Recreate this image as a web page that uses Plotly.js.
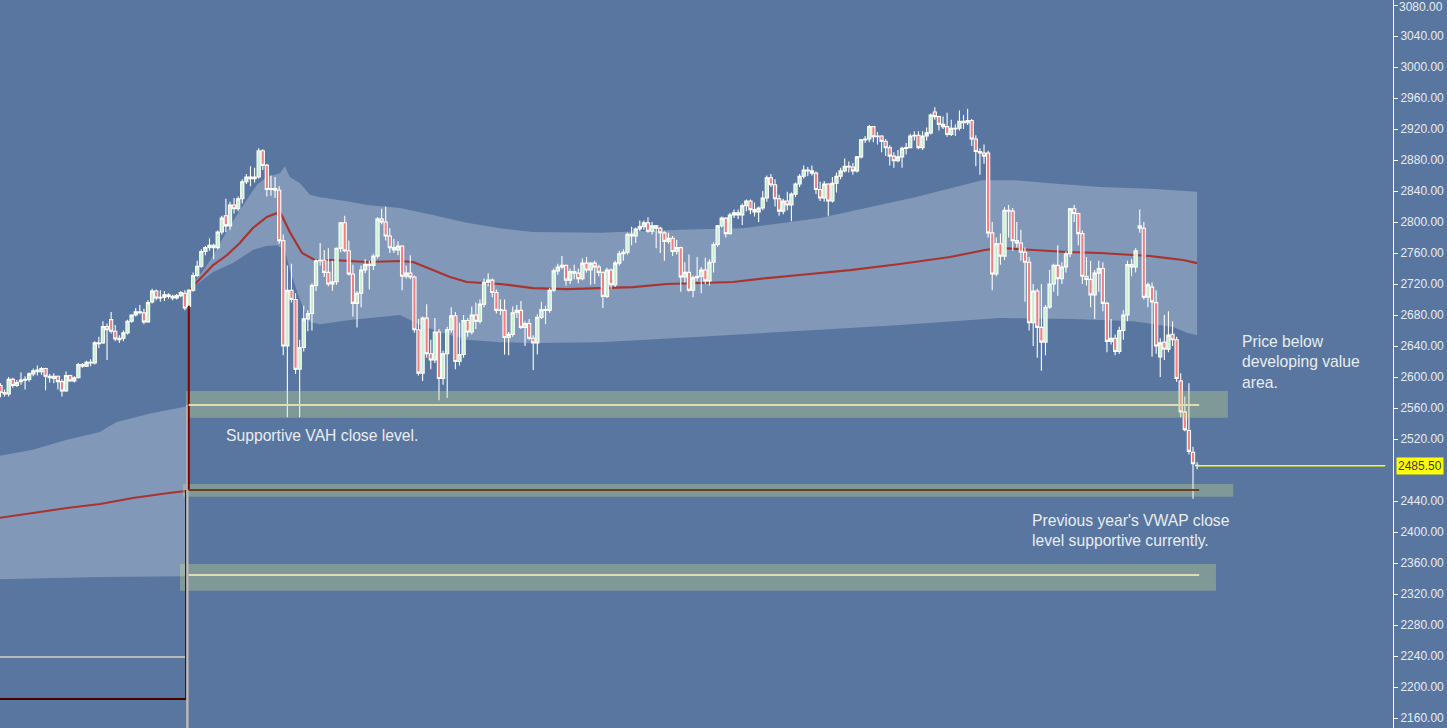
<!DOCTYPE html>
<html><head><meta charset="utf-8">
<script src="https://cdn.plot.ly/plotly-3.0.1.min.js"></script>
<style>html,body{margin:0;padding:0;background:#5876a0;overflow:hidden}#chart{width:1447px;height:728px}</style>
</head><body><div id="chart"></div>
<script>
// ---------- DATA: daily bars (prior year tail, then current year) ----------
const open17 = [2589,2580,2578,2597,2589,2594,2596,2597,2604,2609,2607,2611,2601,2598,2601,2594,2582,2602,2595,2599,2616,2614,2619,2618,2644,2644,2665,2674,2659,2648,2650,2657,2672,2680,2684,2683,2671,2697,2711,2702,2703,2706,2704,2702,2705,2708];
const high17 = [2592,2584,2600,2599,2596,2606,2601,2606,2611,2615,2613,2612,2604,2605,2602,2597,2607,2603,2601,2618,2618,2621,2623,2646,2652,2672,2669,2684,2667,2654,2660,2674,2681,2689,2693,2688,2699,2714,2713,2712,2711,2708,2706,2707,2711,2712];
const low17 = [2574,2575,2575,2586,2587,2590,2584,2594,2601,2602,2603,2583,2593,2592,2584,2575,2581,2594,2593,2598,2612,2613,2614,2616,2637,2643,2622,2656,2646,2644,2646,2655,2670,2678,2681,2668,2670,2695,2699,2697,2698,2701,2699,2700,2703,2686];
const close17 = [2580,2578,2597,2589,2593,2596,2597,2604,2608,2607,2611,2601,2599,2601,2594,2582,2602,2595,2599,2616,2614,2619,2618,2644,2643,2665,2661,2659,2649,2650,2657,2672,2680,2684,2683,2671,2696,2711,2702,2703,2706,2704,2702,2705,2709,2689];

const open18 = [2691,2712,2731,2743,2762,2767,2770,2767,2787,2808,
2795,2822,2817,2830,2852,2858,2856,2858,2892,2873,
2842,2843,2841,2776,2640,2712,2700,2610,2638,2675,
2682,2718,2750,2751,2735,2720,2723,2766,2799,2763,
2733,2695,2708,2738,2745,2744,2756,2804,2800,2782,
2767,2764,2769,2730,2734,2729,2661,2605,2676,2630,
2622,2658,2598,2630,2661,2679,2620,2629,2673,2658,
2680,2672,2694,2722,2725,2709,2686,2686,2651,2655,
2683,2686,2664,2669,2650,2644,2677,2687,2686,2712,
2737,2742,2744,2725,2736,2734,2727,2747,2738,2747,
2742,2735,2704,2738,2719,2747,2759,2761,2784,2782,
2791,2794,2799,2788,2795,2792,2786,2775,2779,2762,
2767,2729,2735,2712,2728,2730,2738,2724,2748,2771,
2795,2805,2785,2809,2812,2809,2821,2827,2816,2813,
2818,2831,2857,2848,2830,2814,2827,2822,2836,2849,
2859,2867,2866,2863,2842,2831,2849,2827,2850,2859,
2866,2872,2871,2866,2884,2906,2907,2923,2910,2911,
2904,2896,2885,2879,2884,2895,2896,2911,2912,2896,
2911,2915,2942,2936,2926,2923,2913,2921,2921,2930,
2928,2931,2907,2891,2889,2889,2786,2733,2772,2756,
2815,2814,2776,2773,2761,2748,2670,2711,2664,2645,
2690,2720,2744,2727,2742,2759,2817,2811,2785,2730,
2726,2706,2734,2740,2695,2646,2650,2633,2660,2680,
2745,2742,2795,2792,2703,2716,2696,2626,2645,2636,
2655,2648,2595,2555,2531,2503,2486];
const high18 = [2714,2735,2750,2765,2769,2779,2772,2789,2808,2830,
2826,2831,2833,2855,2862,2872,2870,2895,2894,2875,
2860,2858,2846,2784,2744,2746,2708,2648,2692,2686,
2721,2752,2773,2764,2766,2750,2767,2800,2808,2776,
2745,2711,2744,2752,2750,2759,2806,2817,2820,2792,
2778,2775,2770,2744,2757,2731,2675,2678,2694,2648,
2676,2662,2634,2665,2690,2684,2670,2680,2676,2691,
2696,2700,2727,2734,2727,2713,2700,2700,2658,2691,
2693,2698,2672,2675,2654,2681,2697,2692,2715,2740,
2746,2756,2745,2740,2745,2740,2753,2755,2748,2750,
2745,2736,2741,2740,2750,2763,2765,2786,2794,2793,
2802,2802,2806,2800,2796,2794,2788,2786,2782,2777,
2768,2748,2758,2731,2755,2742,2754,2752,2774,2796,
2807,2806,2812,2816,2816,2824,2829,2829,2825,2820,
2840,2860,2862,2855,2835,2830,2839,2838,2851,2862,
2873,2871,2873,2865,2852,2853,2850,2858,2864,2870,
2882,2878,2876,2885,2907,2911,2925,2924,2916,2912,
2907,2899,2890,2893,2897,2902,2914,2917,2917,2917,
2922,2940,2948,2937,2936,2941,2932,2926,2944,2938,
2946,2933,2912,2895,2900,2892,2800,2780,2785,2819,
2822,2818,2800,2790,2767,2755,2720,2714,2720,2693,
2738,2746,2770,2748,2762,2818,2822,2812,2789,2755,
2750,2738,2750,2748,2697,2675,2655,2665,2686,2750,
2752,2766,2816,2800,2722,2722,2712,2650,2680,2685,
2672,2652,2605,2575,2592,2510,2490];
const low18 = [2688,2710,2729,2741,2757,2763,2752,2765,2784,2787,
2790,2811,2814,2824,2849,2846,2851,2856,2867,2833,
2834,2831,2772,2628,2548,2696,2604,2548,2633,2659,
2660,2711,2744,2729,2717,2711,2719,2761,2761,2731,
2678,2664,2690,2734,2713,2738,2753,2797,2776,2760,
2760,2757,2712,2727,2726,2657,2602,2595,2625,2610,
2618,2570,2590,2573,2657,2610,2615,2625,2652,2655,
2662,2669,2690,2717,2703,2682,2680,2629,2628,2652,
2676,2662,2640,2648,2609,2629,2675,2668,2683,2710,
2732,2739,2718,2720,2726,2721,2725,2735,2719,2720,
2730,2689,2702,2714,2716,2744,2750,2758,2770,2773,
2788,2790,2786,2784,2766,2760,2750,2772,2756,2758,
2710,2722,2710,2703,2724,2708,2720,2718,2735,2768,
2792,2780,2784,2805,2804,2796,2814,2810,2807,2800,
2815,2826,2845,2820,2808,2810,2815,2801,2832,2845,
2856,2859,2860,2836,2827,2826,2808,2825,2838,2855,
2864,2864,2861,2864,2882,2902,2903,2903,2900,2890,
2885,2873,2870,2877,2870,2887,2895,2905,2894,2893,
2905,2913,2932,2918,2920,2910,2911,2911,2918,2920,
2925,2898,2872,2861,2875,2780,2712,2730,2745,2751,
2780,2763,2767,2750,2697,2660,2640,2625,2608,2628,
2688,2710,2705,2720,2735,2755,2800,2770,2720,2718,
2690,2675,2710,2685,2632,2642,2628,2630,2648,2672,
2730,2735,2786,2700,2690,2626,2630,2600,2622,2632,
2640,2594,2548,2530,2500,2443,2481];
const close18 = [2712,2731,2743,2762,2767,2770,2767,2787,2805,2795,
2822,2817,2830,2852,2858,2856,2858,2892,2873,2842,
2843,2841,2776,2640,2712,2700,2610,2638,2675,2682,
2718,2750,2751,2735,2720,2723,2766,2799,2763,2733,
2695,2708,2738,2745,2744,2756,2804,2800,2782,2767,
2764,2769,2730,2734,2729,2661,2605,2676,2630,2622,
2658,2598,2630,2661,2679,2620,2629,2673,2658,2680,
2672,2694,2722,2725,2709,2686,2687,2651,2655,2683,
2686,2664,2669,2650,2644,2677,2687,2686,2712,2737,
2742,2744,2725,2736,2734,2727,2747,2738,2747,2742,
2735,2704,2738,2719,2747,2759,2761,2784,2782,2791,
2794,2799,2788,2795,2792,2786,2775,2779,2762,2767,
2729,2735,2712,2728,2730,2738,2724,2748,2771,2795,
2805,2785,2809,2812,2809,2821,2827,2816,2813,2818,
2831,2857,2848,2830,2814,2827,2822,2836,2849,2859,
2867,2866,2863,2842,2831,2849,2827,2850,2859,2866,
2872,2871,2866,2884,2906,2907,2923,2910,2911,2904,
2896,2885,2879,2884,2895,2896,2911,2912,2896,2911,
2915,2938,2936,2926,2923,2913,2921,2920,2930,2928,
2931,2907,2891,2889,2885,2786,2733,2772,2756,2815,
2814,2776,2773,2761,2748,2670,2711,2664,2645,2690,
2720,2744,2727,2742,2759,2817,2811,2785,2730,2726,
2706,2734,2740,2695,2646,2650,2633,2660,2680,2745,
2742,2763,2792,2703,2719,2697,2640,2644,2636,2654,
2648,2598,2555,2532,2504,2488,2485.5];

// prior-year developing value area (bar index / price)
const band17UpperX = [-0.5, 7.9, 16.2, 24.3, 26.0, 28.4, 36.5, 45.3];
const band17Upper  = [2498, 2506, 2519, 2529, 2535, 2542, 2553, 2562];
const band17LowerX = [-0.5, 16.2, 24.3, 45.3];
const band17Lower  = [2339, 2341, 2342, 2343];
const vwap17X = [-0.5, 7.9, 16.2, 24.3, 32.3, 40.6, 45.3];
const vwap17  = [2418, 2424.5, 2431, 2436, 2444, 2450, 2453];

// current-year developing value area and VWAP
const upper18X = [46,51.1,56,60.9,62.6,65,68.2,69.4,70.6,73.1,75.5,78,85.3,89.4,97.5,105.5,113.8,121.9,129.9,146.3,165.8,181.2,200,223.2,239.5,247.6,256.1,268.3,280.5,292];
const upper18  = [2712,2750,2795,2835,2848,2858,2863,2872,2858,2850,2835,2832,2826,2822,2818,2809,2799,2792,2787,2786,2790,2792,2805,2832,2854,2854,2850,2845,2843,2839];
const lower18X = [46,51.9,56.7,61.6,65,67.5,69.4,70.6,73.1,75.5,78,85.3,97.5,102.4,107.2,113.8,121.9,129.9,146.3,170.7,200,219.5,243.9,261.7,276.4,286.1,289.5,292];
const lower18  = [2712,2735.5,2747,2764,2769,2770,2764,2738,2699,2671,2668,2673.5,2680,2667,2658,2648,2645,2644,2645,2652,2661,2667,2676,2675,2672,2664.5,2657,2654];
const vwap18X = [46,51.9,55.3,58.4,61.6,65,68.2,70.6,73.6,76.7,81.1,89.4,97.5,100.7,105.5,109.7,113.8,121.9,129.9,138.2,146.3,154.3,162.6,170.7,178.7,187,195,207.3,219.5,231.7,240.2,243.9,252,260.3,268.3,276.4,280.5,284.7,288.6,292];
const vwap18  = [2712,2744.5,2757.4,2772.9,2792.3,2806.5,2813,2787,2760,2751,2751,2748.4,2749.7,2748.4,2738,2729,2722.6,2720,2714.8,2713.5,2714.8,2716,2720,2721.3,2722.6,2727.7,2731.6,2738,2745.8,2754.8,2763.9,2766.5,2763.9,2761.3,2760,2757.4,2756.1,2753.5,2751,2747];

// prior-year close levels and the older levels they replaced
const levelNames   = ['VAH', 'VWAP', 'VAL'];
const levelClose   = [2564, 2454.2, 2344.5];
const levelOld     = [2238.7, 2184.5, 2100];
const zoneHalf     = [17.2, 8.2, 17.2];
const zoneCenter   = [2564.7, 2453.7, 2341.5];
const zoneStartX   = [45.27, 44.5, 43.8];
const zoneEndX     = [299.5, 300.8, 296.6];
const lastPrice = 2485.5;
const yTicks = [2160,2200,2240,2280,2320,2360,2400,2440,2520,2560,2600,2640,2680,2720,2760,2800,2840,2880,2920,2960,3000,3040,3080];

// ---------- BUILD ----------
const opens = open17.concat(open18), highs = high17.concat(high18),
      lows = low17.concat(low18), closes = close17.concat(close18);
const n = Math.min(opens.length, highs.length, lows.length, closes.length);
const idx = Array.from({length: n}, (_, i) => i);
const firstBar = open17.length;          // first bar of the new year
const lastBar = n - 1;
const yearBreak = firstBar - 0.4;
const topTick = yTicks[yTicks.length - 1];

function linePath(xs, ys) { return xs.map((x, i) => (i ? 'L' : 'M') + x + ',' + ys[i]).join(' '); }
function polyPath(ux, uy, lx, ly) {
  const rx = lx.slice().reverse(), ry = ly.slice().reverse();
  return linePath(ux.concat(rx), uy.concat(ry)) + ' Z';
}

const BG = 'rgb(88,118,160)';
const BAND = 'rgb(130,152,185)';
const VWAPC = 'rgb(168,52,48)';
const FONT = '"Liberation Sans", Arial, sans-serif';

const shapes = [
  {type:'path', layer:'below', xref:'x', yref:'y', path: polyPath(band17UpperX, band17Upper, band17LowerX, band17Lower), fillcolor: BAND, line:{width:0}},
  {type:'path', layer:'below', xref:'x', yref:'y', path: polyPath(upper18X, upper18, lower18X, lower18), fillcolor: BAND, line:{width:0}},
  {type:'path', layer:'below', xref:'x', yref:'y', path: linePath(vwap17X, vwap17), fillcolor:'rgba(0,0,0,0)', line:{color: VWAPC, width:2}},
  {type:'path', layer:'below', xref:'x', yref:'y', path: linePath(vwap18X, vwap18), fillcolor:'rgba(0,0,0,0)', line:{color: VWAPC, width:2.2}},
];

const traces = [];
traces.push({
  type:'candlestick', x: idx, open: opens.slice(0,n), high: highs.slice(0,n), low: lows.slice(0,n), close: closes.slice(0,n),
  increasing:{line:{color:'#ffffff', width:1.1}, fillcolor:'rgb(200,240,205)'},
  decreasing:{line:{color:'#ffffff', width:1.1}, fillcolor:'rgb(240,128,128)'},
  whiskerwidth: 0, hoverinfo:'skip', showlegend:false
});
// highlight zones
for (let k = 0; k < 3; k++) {
  const y0 = zoneCenter[k] - zoneHalf[k], y1 = zoneCenter[k] + zoneHalf[k];
  traces.push({type:'scatter', mode:'lines', x:[zoneStartX[k], zoneEndX[k], zoneEndX[k], zoneStartX[k], zoneStartX[k]],
    y:[y0, y0, y1, y1, y0], fill:'toself', fillcolor:'rgba(205,225,140,0.33)', line:{width:0}, hoverinfo:'skip', showlegend:false});
}
// older levels before the year break, with their steps
traces.push({type:'scatter', mode:'lines', x:[-2, yearBreak], y:[levelOld[0], levelOld[0]], line:{color:'rgb(185,185,185)', width:2}, hoverinfo:'skip', showlegend:false});
traces.push({type:'scatter', mode:'lines', x:[-2, yearBreak - 0.3, yearBreak - 0.3], y:[levelOld[1], levelOld[1], levelClose[1]], line:{color:'rgb(70,0,0)', width:2}, hoverinfo:'skip', showlegend:false});
traces.push({type:'scatter', mode:'lines', x:[yearBreak, yearBreak], y:[levelOld[2], levelClose[0]], line:{color:'rgb(185,185,185)', width:2.5}, hoverinfo:'skip', showlegend:false});
// connection of the new year's VWAP
traces.push({type:'scatter', mode:'lines', x:[firstBar - 0.05, firstBar - 0.05], y:[levelClose[1], 2692], line:{color:'rgb(128,0,0)', width:2}, hoverinfo:'skip', showlegend:false});
// prior-year close levels across the new year
const lvlColors = ['rgb(224,219,180)', 'rgb(112,62,36)', 'rgb(224,219,180)'];
for (let k = 0; k < 3; k++) {
  traces.push({type:'scatter', mode:'lines', x:[firstBar - 0.1, lastBar + 0.5], y:[levelClose[k], levelClose[k]],
    line:{color: lvlColors[k], width:2}, hoverinfo:'skip', showlegend:false, name: levelNames[k]});
}
// last price line
traces.push({type:'scatter', mode:'lines', x:[lastBar, lastBar + 45.9], y:[lastPrice, lastPrice], line:{color:'#ffff00', width:1.4}, hoverinfo:'skip', showlegend:false});

const txtFont = {family: FONT, size:15.7, color:'#e9edf3'};
const annotations = [
  {xref:'x', yref:'y', x:55.0, xshift:-2, y:2524.5, xanchor:'left', yanchor:'middle', align:'left', showarrow:false, text:'Supportive VAH close level.', font: txtFont},
  {xref:'x', yref:'y', x:302.9, xshift:-2, y:2619.4, xanchor:'left', yanchor:'middle', align:'left', showarrow:false, text:'Price below<br>developing value<br>area.', font: txtFont},
  {xref:'x', yref:'y', x:251.6, xshift:-2, y:2402.2, xanchor:'left', yanchor:'middle', align:'left', showarrow:false, text:"Previous year's VWAP close<br>level supportive currently.", font: txtFont},
  {xref:'paper', yref:'y', x:1, xshift:3, y:lastPrice, xanchor:'left', yanchor:'middle', showarrow:false, text: lastPrice.toFixed(2),
    bgcolor:'#ffff00', borderpad:1, font:{family: FONT, size:12, color:'#3a3a3a'}},
  // top tick label, nudged so it is not cut by the page edge
  {xref:'paper', yref:'y', x:1, xshift:4, y:topTick, yshift:-1.5, xanchor:'left', yanchor:'middle', showarrow:false, text: topTick.toFixed(2),
    borderpad:1, font:{family: FONT, size:12, color:'#e8ecf2'}}
];

const layout = {
  width:1447, height:728, margin:{l:0, r:54, t:0, b:0, pad:0},
  paper_bgcolor: BG, plot_bgcolor: BG, showlegend:false,
  boxgap: 0.22, boxgroupgap: 0,
  xaxis:{range:[-0.12, 339.8], showgrid:false, zeroline:false, showticklabels:false, ticks:'', showline:false,
         rangeslider:{visible:false}, fixedrange:true},
  yaxis:{side:'right', range:[2147.1, 3086.45], showgrid:false, zeroline:false, showline:true, linecolor:'#ffffff', linewidth:1,
         ticks:'outside', ticklen:4, tickcolor:'#ffffff', tickwidth:1,
         tickvals: yTicks, ticktext: yTicks.map(v => v === topTick ? '' : v.toFixed(2)),
         tickfont:{family: FONT, size:12, color:'#e8ecf2'}, fixedrange:true},
  shapes: shapes, annotations: annotations
};
Plotly.newPlot('chart', traces, layout, {displayModeBar:false, staticPlot:true});
</script>
</body></html>
